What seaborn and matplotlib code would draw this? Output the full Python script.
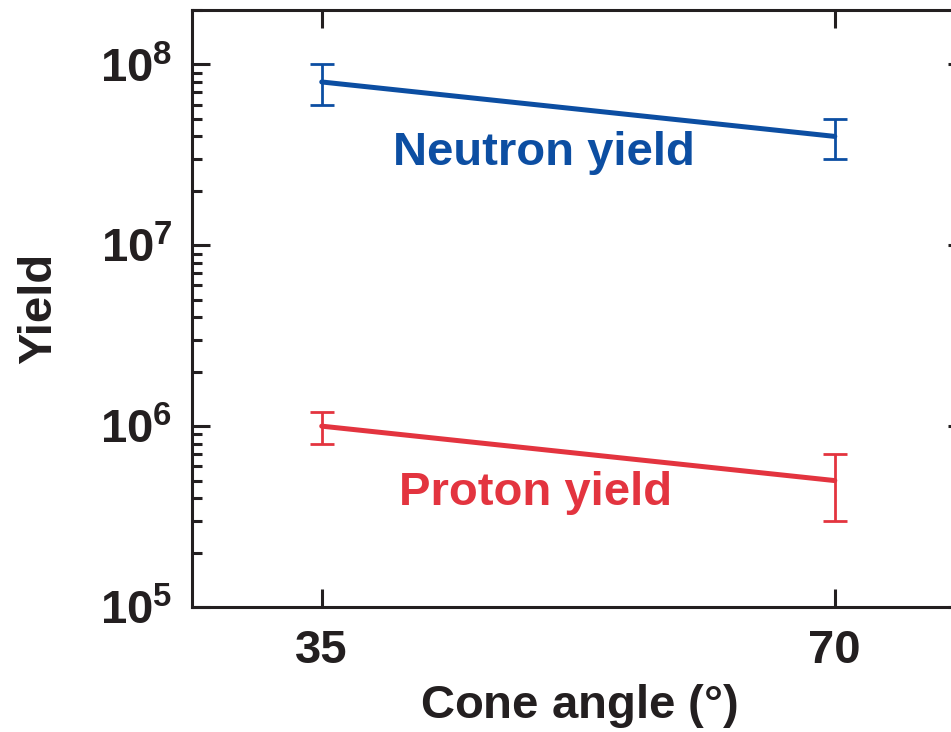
import matplotlib
matplotlib.use("Agg")
import matplotlib.pyplot as plt
import matplotlib.ticker as mticker
import numpy as np
import pandas as pd
import seaborn as sns

# ---- data ----
cone_angle = [35, 70]
neutron_yield = [8e7, 4e7]
neutron_low = [6e7, 3e7]
neutron_high = [1e8, 5e7]
proton_yield = [1e6, 5e5]
proton_low = [8e5, 3e5]
proton_high = [1.2e6, 7e5]
x_ticks = [35, 70]
y_ticks = [1e5, 1e6, 1e7, 1e8]
y_tick_labels = [r"$\mathbf{10^{5}}$", r"$\mathbf{10^{6}}$", r"$\mathbf{10^{7}}$", r"$\mathbf{10^{8}}$"]

BLUE = "#0c4ea2"
RED = "#e3343f"
INK = "#231f20"

sns.set_theme(style="white")
plt.rcParams["font.family"] = ["Liberation Sans", "DejaVu Sans"]
plt.rcParams["font.weight"] = "bold"
plt.rcParams["mathtext.fontset"] = "custom"
plt.rcParams["mathtext.rm"] = "Liberation Sans"
plt.rcParams["mathtext.bf"] = "Liberation Sans:bold"
plt.rcParams["mathtext.it"] = "Liberation Sans:italic"

W, H = 951, 732
fig = plt.figure(figsize=(W / 100, H / 100), dpi=100)
ax = fig.add_axes([192 / W, (H - 607) / H, 774 / W, 597 / H])

df = pd.DataFrame({
    "angle": cone_angle * 2,
    "yield": neutron_yield + proton_yield,
    "series": ["Neutron"] * 2 + ["Proton"] * 2,
})
sns.lineplot(data=df, x="angle", y="yield", hue="series",
             palette={"Neutron": BLUE, "Proton": RED},
             linewidth=3.6, legend=False, ax=ax)

for vals, lo, hi, col in [(neutron_yield, neutron_low, neutron_high, BLUE),
                          (proton_yield, proton_low, proton_high, RED)]:
    v = np.array(vals)
    yerr = np.vstack([v - np.array(lo), np.array(hi) - v])
    ax.errorbar(cone_angle, v, yerr=yerr, fmt="none", ecolor=col,
                elinewidth=2.0, capsize=8.6, capthick=2.0)

ax.set_yscale("log")
ax.set_ylim(1e5, 2e8)
ax.set_xlim(26.15, 78.95)

ax.set_xticks(x_ticks)
ax.set_xticklabels([str(t) for t in x_ticks])
ax.set_yticks(y_ticks)
ax.set_yticklabels(y_tick_labels)
ax.yaxis.set_minor_locator(mticker.LogLocator(base=10, subs=np.arange(2, 10), numticks=20))
ax.yaxis.set_minor_formatter(mticker.NullFormatter())

ax.tick_params(axis="both", which="major", direction="in", length=13, width=2.2,
               color=INK, labelsize=34, labelcolor=INK,
               top=True, right=True, left=True, bottom=True)
ax.tick_params(axis="y", which="minor", direction="in", length=7, width=2.2,
               color=INK, left=True, right=False)
ax.tick_params(axis="x", which="major", pad=16)
ax.tick_params(axis="y", which="major", pad=14)
for lab in ax.get_xticklabels():
    lab.set_fontweight("bold")

for s in ax.spines.values():
    s.set_visible(True)
    s.set_linewidth(2.2)
    s.set_color(INK)

ax.set_xlabel(r"Cone angle $\mathrm{(°)}$", fontsize=34, fontweight="bold", color=INK, labelpad=6)
ax.set_ylabel("Yield", fontsize=34, fontweight="bold", color=INK, labelpad=28)

ax.text(50.13, 2.77e7, "Neutron yield", color=BLUE, fontsize=34, fontweight="bold",
        ha="center", va="baseline")
ax.text(49.56, 3.67e5, "Proton yield", color=RED, fontsize=34, fontweight="bold",
        ha="center", va="baseline")

fig.savefig("out.png", dpi=100)
